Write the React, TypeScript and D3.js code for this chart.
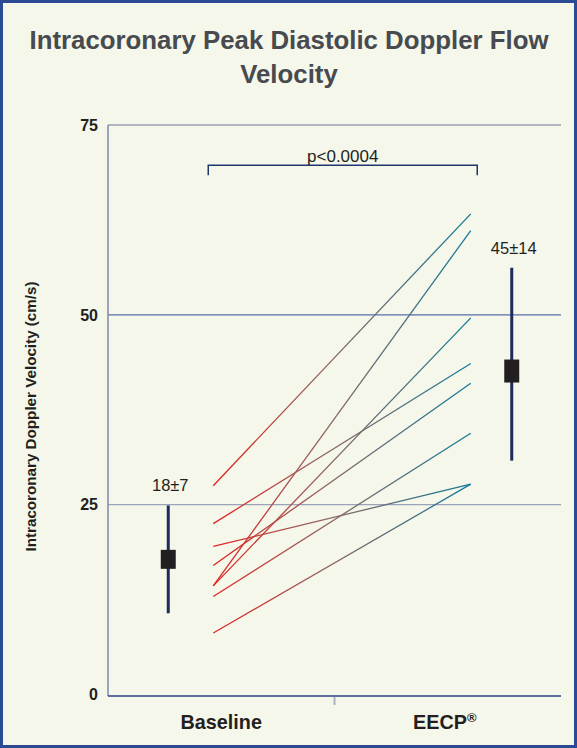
import React from 'react';
import * as d3 from 'd3';

const categories = ['Baseline', 'EECP'];
const baselineValues = [27.5, 22.5, 19.5, 17.0, 14.3, 14.3, 12.9, 8.1];
const eecpValues = [63.3, 43.6, 27.7, 41.0, 61.1, 49.6, 34.4, 27.7];
const summaryMean = [17.8, 42.6];
const summaryLow = [10.7, 30.8];
const summaryHigh = [24.9, 56.2];
const summaryLabels = ['18±7', '45±14'];
const yTicks = [0, 25, 50, 75];
const pLabel = 'p<0.0004';
const titleLines = ['Intracoronary Peak Diastolic Doppler Flow', 'Velocity'];
const yAxisTitle = 'Intracoronary Doppler Velocity (cm/s)';

const W = 577;
const H = 748;
const FONT = 'Liberation Sans, Arial, Helvetica, sans-serif';

export default function App() {
  const x = d3.scaleBand<string>().domain(categories).range([108, 561]).paddingInner(0).paddingOuter(0);
  const y = d3.scaleLinear().domain([0, 75]).range([694.5, 125]);
  const cx = (c: string) => (x(c) as number) + x.bandwidth() / 2;

  const lineStartX = cx('Baseline') - 8;
  const lineEndX = cx('EECP') + 23;
  const summaryX = [cx('Baseline') - 53, cx('EECP') + 64];
  const boxW = 15;
  const boxH = [19, 23];
  const bracketL = cx('Baseline') - 13;
  const bracketR = cx('EECP') + 29.5;
  const bracketY = y(69.7);

  const gridColor: Record<number, string> = { 25: '#9ba3b8', 50: '#5d6cab', 75: '#b0b5c2' };

  const lineGen = d3.line<[number, number]>().x((d) => d[0]).y((d) => d[1]);

  return (
    <svg width={W} height={H} style={{ position: 'absolute', left: 0, top: 0 }} fontFamily={FONT}>
      <defs>
        <linearGradient id="lg" x1="0" x2="1" y1="0" y2="0">
          <stop offset="0" stopColor="#e4221f" />
          <stop offset="0.45" stopColor="#8d6763" />
          <stop offset="1" stopColor="#13799b" />
        </linearGradient>
      </defs>
      <rect x={1.5} y={1.5} width={W - 3} height={H - 3} fill="#f5f7ea" stroke="#2c4a93" strokeWidth={3} />

      {titleLines.map((t, i) => (
        <text key={i} x={W / 2 + 0.5} y={48.5 + i * 34} textAnchor="middle" fontSize={25.8} fontWeight="bold" fill="#474a4e">
          {t}
        </text>
      ))}

      {yTicks.filter((t) => t > 0).map((t) => (
        <line key={t} x1={108} x2={561} y1={y(t)} y2={y(t)} stroke={gridColor[t]} strokeWidth={t === 75 ? 2 : 1.2} />
      ))}
      <line x1={108} x2={108} y1={y(75)} y2={696} stroke="#7f89a6" strokeWidth={1.5} />
      <line x1={108} x2={561} y1={696} y2={696} stroke="#2a4186" strokeWidth={1.6} />
      <line x1={334.5} x2={334.5} y1={697} y2={705} stroke="#a9b0c4" strokeWidth={2} />

      {yTicks.map((t) => (
        <text key={t} x={98} y={y(t)} dy="0.36em" textAnchor="end" fontSize={16} fontWeight="bold" fill="#231f20">
          {t}
        </text>
      ))}

      <text
        transform={`translate(36,${416.5}) rotate(-90)`}
        textAnchor="middle"
        fontSize={15.2}
        fontWeight="bold"
        fill="#231f20"
      >
        {yAxisTitle}
      </text>

      <text x={cx('Baseline')} y={729} textAnchor="middle" fontSize={19.8} fontWeight="bold" fill="#231f20">
        Baseline
      </text>
      <text x={cx('EECP') - 3} y={729} textAnchor="middle" fontSize={19.8} fontWeight="bold" fill="#231f20">
        EECP
        <tspan fontSize={13} dy={-7}>®</tspan>
      </text>

      {baselineValues.map((b, i) => (
        <path
          key={i}
          d={lineGen([
            [lineStartX, y(b)],
            [lineEndX, y(eecpValues[i])],
          ]) as string}
          stroke="url(#lg)"
          strokeWidth={1.3}
          fill="none"
        />
      ))}

      {categories.map((c, i) => (
        <g key={c}>
          <line x1={summaryX[i]} x2={summaryX[i]} y1={y(summaryLow[i])} y2={y(summaryHigh[i])} stroke="#1c2a5c" strokeWidth={3} />
          <rect
            x={summaryX[i] - boxW / 2}
            y={y(summaryMean[i]) - boxH[i] / 2}
            width={boxW}
            height={boxH[i]}
            fill="#231f20"
          />
          <text x={summaryX[i] + 2} y={y(summaryHigh[i]) - 14} textAnchor="middle" fontSize={16.5} fill="#231f20">
            {summaryLabels[i]}
          </text>
        </g>
      ))}

      <path
        d={`M${bracketL},${bracketY + 10}V${bracketY}H${bracketR}V${bracketY + 10}`}
        fill="none"
        stroke="#1f3670"
        strokeWidth={1.5}
      />
      <text x={(bracketL + bracketR) / 2} y={bracketY - 3.5} textAnchor="middle" fontSize={17} fill="#231f20">
        {pLabel}
      </text>
    </svg>
  );
}
